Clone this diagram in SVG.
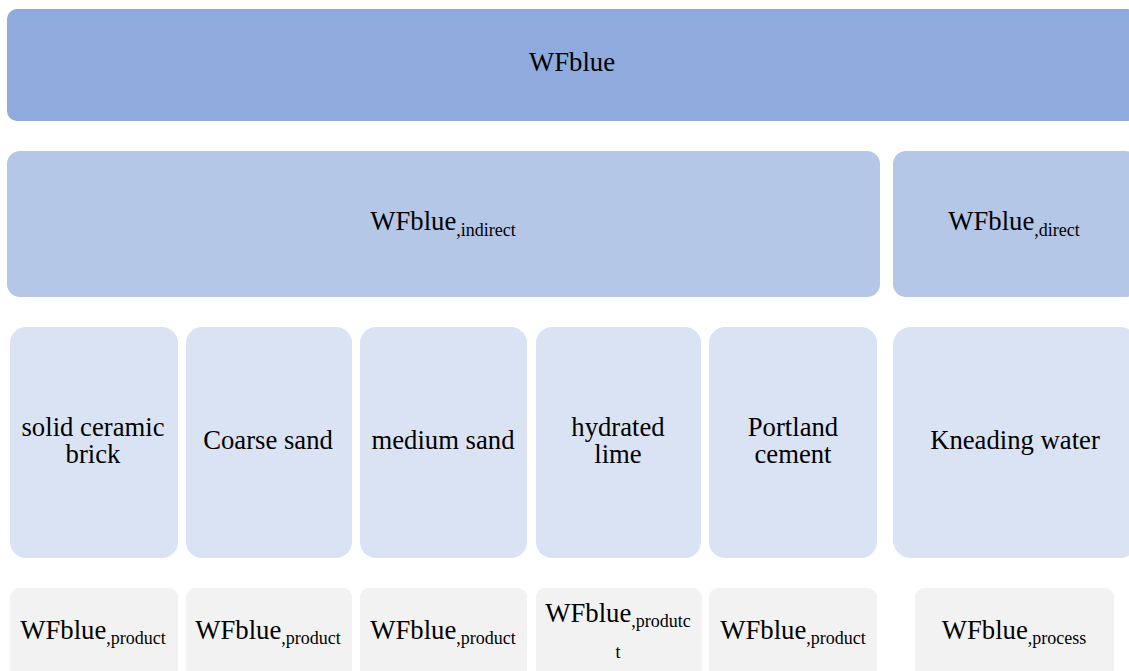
<svg xmlns="http://www.w3.org/2000/svg" width="1129" height="671" viewBox="0 0 1129 671">
<style>
text{font-family:"Liberation Serif","Times New Roman",serif;fill:#000;text-anchor:middle}
.big{font-size:26.7px}
.sub{font-size:18px}
.l1{fill:#8FAADC}
.l2{fill:#B4C7E7}
.l3{fill:#DAE3F3}
.l4{fill:#F2F2F2}
</style>
<rect width="1129" height="671" fill="#fff"/>
<g id="wfblue">
<rect class="l1" x="7" y="9" width="1130" height="112" rx="10"/>
<text class="big" x="572" y="71">WFblue</text>
</g>
<g id="wfblue-indirect">
<rect class="l2" x="7" y="151" width="873" height="146" rx="13"/>
<text class="big" x="443" y="230">WFblue<tspan class="sub" dy="6">,indirect</tspan></text>
</g>
<g id="wfblue-direct">
<rect class="l2" x="893" y="151" width="245" height="146" rx="13"/>
<text class="big" x="1014" y="230">WFblue<tspan class="sub" dy="6">,direct</tspan></text>
</g>
<g id="brick">
<rect class="l3" x="10" y="327" width="168" height="231" rx="16"/>
<text class="big" x="93" y="436">solid ceramic</text>
<text class="big" x="93" y="463">brick</text>
</g>
<g id="coarse-sand">
<rect class="l3" x="186" y="327" width="166" height="231" rx="16"/>
<text class="big" x="268" y="449">Coarse sand</text>
</g>
<g id="medium-sand">
<rect class="l3" x="360" y="327" width="167" height="231" rx="16"/>
<text class="big" x="443" y="449">medium sand</text>
</g>
<g id="lime">
<rect class="l3" x="536" y="327" width="165" height="231" rx="16"/>
<text class="big" x="618" y="436">hydrated</text>
<text class="big" x="618" y="463">lime</text>
</g>
<g id="cement">
<rect class="l3" x="709" y="327" width="168" height="231" rx="16"/>
<text class="big" x="793" y="436">Portland</text>
<text class="big" x="793" y="463">cement</text>
</g>
<g id="water">
<rect class="l3" x="893" y="327" width="245" height="231" rx="18"/>
<text class="big" x="1015" y="449">Kneading water</text>
</g>
<g id="p-brick">
<rect class="l4" x="10" y="588" width="168" height="100" rx="9"/>
<text class="big" x="93" y="639">WFblue<tspan class="sub" dy="5">,product</tspan></text>
</g>
<g id="p-coarse">
<rect class="l4" x="186" y="588" width="166" height="100" rx="9"/>
<text class="big" x="268" y="639">WFblue<tspan class="sub" dy="5">,product</tspan></text>
</g>
<g id="p-medium">
<rect class="l4" x="360" y="588" width="167" height="100" rx="9"/>
<text class="big" x="443" y="639">WFblue<tspan class="sub" dy="5">,product</tspan></text>
</g>
<g id="p-lime">
<rect class="l4" x="536" y="588" width="166" height="100" rx="9"/>
<text class="big" x="618" y="622">WFblue<tspan class="sub" dy="5">,produtc</tspan></text>
<text class="sub" x="618" y="658">t</text>
</g>
<g id="p-cement">
<rect class="l4" x="709" y="588" width="168" height="100" rx="9"/>
<text class="big" x="793" y="639">WFblue<tspan class="sub" dy="5">,product</tspan></text>
</g>
<g id="p-water">
<rect class="l4" x="915" y="588" width="199" height="100" rx="9"/>
<text class="big" x="1014" y="639">WFblue<tspan class="sub" dy="5">,process</tspan></text>
</g>
<g id="connectors"></g>
</svg>
